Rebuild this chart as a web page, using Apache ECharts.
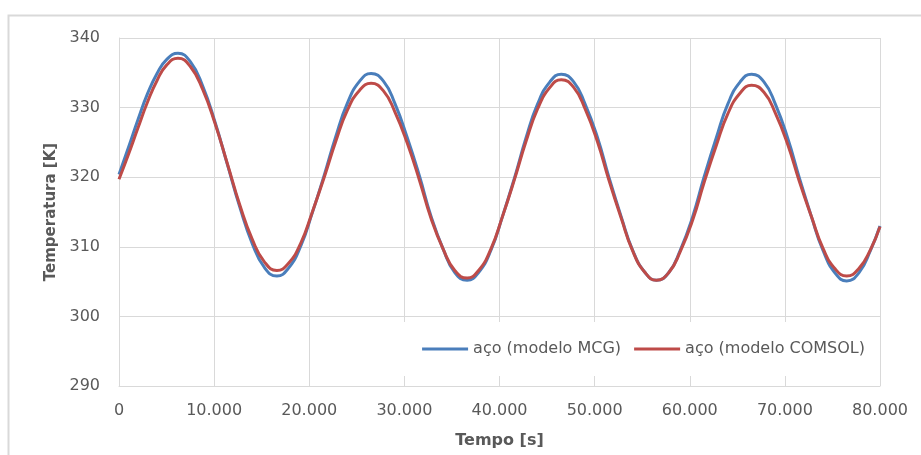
<!DOCTYPE html>
<html>
<head>
<meta charset="utf-8">
<script src="https://cdn.jsdelivr.net/npm/echarts@6/dist/echarts.min.js"></script>
<style>
  html, body { margin: 0; padding: 0; background: #ffffff; }
  #chart { width: 921px; height: 455px; }
</style>
</head>
<body>
<div id="chart"></div>
<script>
// Tempo [s] dos pontos amostrados (inclui os instantes de máximo e mínimo)
const tempo = [
  0, 1000, 2000, 3000, 4000, 5000, 6200,
  7500, 8800, 10100, 11400, 12700, 14000, 15300, 16600,
  17800, 19100, 20300, 21600, 22800, 24000, 25300, 26500,
  27800, 29000, 30300, 31600, 32800, 34100, 35300, 36600,
  37800, 39100, 40300, 41600, 42800, 44000, 45300, 46500,
  47800, 49000, 50300, 51500, 52800, 54000, 55300, 56500,
  57800, 59000, 60300, 61500, 62800, 64000, 65300, 66500,
  67800, 69000, 70300, 71500, 72800, 74000, 75300, 76500,
  77800, 79000, 80000
];

// Temperatura [K] — aço (modelo MCG)
const mcg = [
  320.4, 324.3, 328.3, 332.0, 334.9, 336.9, 337.8,
  336.6, 333.1, 327.9, 321.8, 315.7, 310.5, 307.0, 305.8,
  306.9, 310.1, 314.8, 320.4, 325.9, 330.6, 333.8, 334.9,
  333.8, 330.6, 325.7, 320.1, 314.4, 309.6, 306.3, 305.2,
  306.3, 309.5, 314.3, 320.0, 325.7, 330.5, 333.7, 334.8,
  333.7, 330.5, 325.7, 320.0, 314.3, 309.5, 306.3, 305.2,
  306.3, 309.5, 314.3, 320.0, 325.7, 330.5, 333.7, 334.8,
  333.7, 330.5, 325.6, 320.0, 314.3, 309.5, 306.2, 305.1,
  306.3, 309.5, 313.0
];

// Temperatura [K] — aço (modelo COMSOL)
const comsol = [
  319.7, 323.3, 327.1, 330.8, 333.9, 336.1, 337.1,
  335.9, 332.6, 327.7, 321.9, 316.0, 311.1, 307.8, 306.6,
  307.6, 310.5, 314.9, 320.1, 325.2, 329.6, 332.5, 333.5,
  332.4, 329.4, 324.9, 319.5, 314.1, 309.6, 306.6, 305.5,
  306.6, 309.7, 314.3, 319.8, 325.2, 329.8, 332.9, 334.0,
  332.9, 329.8, 325.1, 319.6, 314.1, 309.4, 306.3, 305.2,
  306.3, 309.3, 313.8, 319.2, 324.6, 329.1, 332.1, 333.2,
  332.2, 329.2, 324.7, 319.5, 314.3, 309.8, 306.8, 305.8,
  306.9, 309.6, 312.9
];

const seriesNames = ['aço (modelo MCG)', 'aço (modelo COMSOL)'];
const xTickLabels = ['0', '10.000', '20.000', '30.000', '40.000', '50.000', '60.000', '70.000', '80.000'];
const yTickLabels = ['290', '300', '310', '320', '330', '340'];

const X_MIN = 0, X_MAX = 80000, X_STEP = 10000;
const Y_MIN = 290, Y_MAX = 340, Y_STEP = 10;

const FONT = 'DejaVu Sans';
const TEXT = '#595959';
const GRID = '#d9d9d9';
const BLUE = '#4a7ebb';
const RED = '#be4b48';

const chart = echarts.init(document.getElementById('chart'), null, { renderer: 'canvas' });

chart.setOption({
  animation: false,
  backgroundColor: '#ffffff',
  textStyle: { fontFamily: FONT },
  graphic: [{
    // moldura da área do gráfico
    type: 'rect',
    silent: true,
    z: -10,
    shape: { x: 8.5, y: 15.5, width: 1200, height: 800 },
    style: { fill: 'transparent', stroke: '#d9d9d9', lineWidth: 2 }
  }],
  grid: { left: 119, top: 38, right: 41, bottom: 69, containLabel: false },
  legend: {
    right: 41,
    top: 322,
    orient: 'horizontal',
    backgroundColor: '#ffffff',
    padding: [19, 15, 19, 22],
    icon: 'rect',
    itemWidth: 46,
    itemHeight: 3,
    itemGap: 13,
    textStyle: { fontFamily: FONT, fontSize: 16, color: TEXT },
    data: seriesNames
  },
  xAxis: {
    type: 'value',
    min: X_MIN,
    max: X_MAX,
    interval: X_STEP,
    name: 'Tempo [s]',
    nameLocation: 'middle',
    nameGap: 47,
    nameTextStyle: { fontFamily: FONT, fontSize: 16, fontWeight: 'bold', color: TEXT },
    axisLine: { show: true, lineStyle: { color: GRID, width: 1 } },
    axisTick: { show: false },
    axisLabel: {
      margin: 17,
      fontFamily: FONT, fontSize: 16, color: TEXT,
      formatter: v => xTickLabels[Math.round((v - X_MIN) / X_STEP)]
    },
    splitLine: { show: true, lineStyle: { color: GRID, width: 1 } }
  },
  yAxis: {
    type: 'value',
    min: Y_MIN,
    max: Y_MAX,
    interval: Y_STEP,
    name: 'Temperatura [K]',
    nameLocation: 'middle',
    nameGap: 60,
    nameTextStyle: { fontFamily: FONT, fontSize: 15, fontWeight: 'bold', color: TEXT },
    axisLine: { show: true, lineStyle: { color: GRID, width: 1 } },
    axisTick: { show: false },
    axisLabel: {
      margin: 19,
      fontFamily: FONT, fontSize: 16, color: TEXT,
      formatter: v => yTickLabels[Math.round((v - Y_MIN) / Y_STEP)]
    },
    splitLine: { show: true, lineStyle: { color: GRID, width: 1 } }
  },
  series: [
    {
      name: seriesNames[0],
      type: 'line',
      smooth: true,
      symbol: 'none',
      color: BLUE,
      lineStyle: { color: BLUE, width: 3 },
      data: tempo.map((t, i) => [t, mcg[i]])
    },
    {
      name: seriesNames[1],
      type: 'line',
      smooth: true,
      symbol: 'none',
      color: RED,
      lineStyle: { color: RED, width: 3 },
      data: tempo.map((t, i) => [t, comsol[i]])
    }
  ]
});
</script>
</body>
</html>
